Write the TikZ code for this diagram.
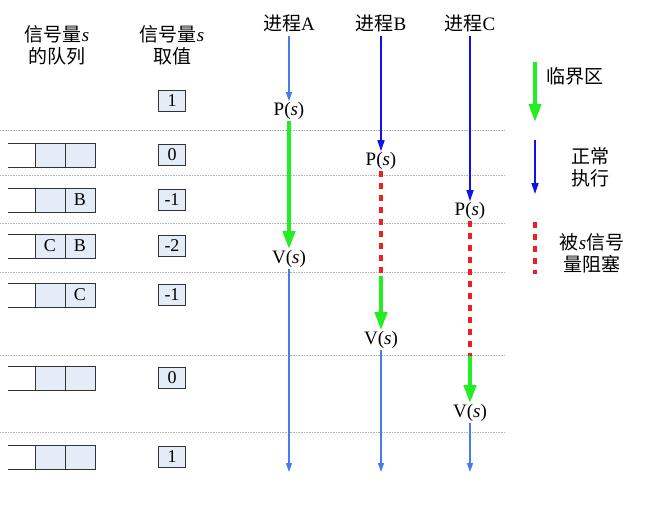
\documentclass[tikz,border=0pt]{standalone}
\usepackage{fontspec}
\setmainfont{Liberation Serif}
\newfontfamily\cjk{Noto Sans CJK SC}
\usetikzlibrary{arrows.meta}
\definecolor{lblue}{HTML}{4A7BEA}
\definecolor{dblue}{HTML}{1010F0}
\definecolor{cgreen}{HTML}{22EE22}
\definecolor{cred}{HTML}{F02020}
\definecolor{cellfill}{HTML}{E4ECF8}
\newcommand{\si}{{\rmfamily\itshape s}}
\tikzset{
 grid/.style={gray!60,densely dotted,line width=0.6pt},
 cell/.style={draw=black!80,fill=cellfill,minimum width=30pt,minimum height=24pt,inner sep=0pt,font=\fontsize{18}{18}\selectfont,line width=0.8pt},
 val/.style={draw=black!80,fill=cellfill,minimum width=27pt,minimum height=21pt,inner sep=0pt,font=\fontsize{18}{18}\selectfont,line width=0.8pt},
 lab/.style={font=\fontsize{19}{19}\selectfont,inner sep=1pt},
 hdr/.style={font=\cjk\fontsize{19}{22}\selectfont,align=center,inner sep=0pt},
 norm/.style={lblue,line width=1.2pt,-{Triangle[length=9pt,width=6pt]}},
 normd/.style={dblue,line width=1.5pt,-{Triangle[length=11pt,width=7pt]}},
 crit/.style={cgreen,line width=4pt,-{Triangle[length=18pt,width=12pt]}},
 blk/.style={cred,line width=4pt,dash pattern=on 6pt off 6pt},
}
\newcommand{\queue}[4]{% y, name, left, right
 \draw[black!80,line width=0.8pt] (8,#1-12) -- (35,#1-12) (8,#1+12) -- (35,#1+12);
 \node[cell] (#2a) at (50,#1) {#3};
 \node[cell] (#2b) at (80,#1) {#4};}
\begin{document}
\begin{tikzpicture}[x=1pt,y=-1pt]
\useasboundingbox (0,0) rectangle (660,504);
\foreach \y in {130,175,223,272,355,432} \draw[grid] (0,\y) -- (505,\y);
\node[hdr] (h1) at (57,45) {信号量\si\\的队列};
\node[hdr] (h2) at (172,45) {信号量\si\\取值};
\node[hdr] (pa) at (289,23) {进程{\rmfamily A}};
\node[hdr] (pb) at (381,23) {进程{\rmfamily B}};
\node[hdr] (pc) at (470,23) {进程{\rmfamily C}};
% queues
\queue{155}{q1}{}{}
\queue{200}{q2}{}{B}
\queue{246}{q3}{C}{B}
\queue{295}{q4}{}{C}
\queue{378}{q5}{}{}
\queue{457}{q6}{}{}
% values
\node[val] (v1) at (172,101) {1};
\node[val] (v2) at (172,155) {0};
\node[val] (v3) at (172,200) {-1};
\node[val] (v4) at (172,246) {-2};
\node[val] (v5) at (172,295) {-1};
\node[val] (v6) at (172,378) {0};
\node[val] (v7) at (172,457) {1};
% process A
\node[lab] (ap) at (289,111) {P(\textit{s})};
\node[lab] (av) at (289,259) {V(\textit{s})};
\coordinate (ae) at (289,472);
\draw[norm] (289,36) -- (ap.north);
\draw[crit] (ap.south) -- (av.north);
\draw[norm] (av.south) -- (ae);
% process B
\node[lab] (bp) at (381,161) {P(\textit{s})};
\coordinate (bg) at (381,276);
\node[lab] (bv) at (381,340) {V(\textit{s})};
\coordinate (be) at (381,472);
\draw[normd] (381,36) -- (bp.north);
\draw[blk] (bp.south) -- (bg);
\draw[crit] (bg) -- (bv.north);
\draw[norm] (bv.south) -- (be);
% process C
\node[lab] (cp) at (470,211) {P(\textit{s})};
\coordinate (cg) at (470,356);
\node[lab] (cv) at (470,413) {V(\textit{s})};
\coordinate (ce) at (470,472);
\draw[normd] (470,36) -- (cp.north);
\draw[blk] (cp.south) -- (cg);
\draw[crit] (cg) -- (cv.north);
\draw[norm] (cv.south) -- (ce);
% legend
\coordinate (l1a) at (535,62); \coordinate (l1b) at (535,122);
\draw[crit] (l1a) -- (l1b);
\node[hdr,anchor=west] (t1) at (546,76) {临界区};
\coordinate (l2a) at (535,140); \coordinate (l2b) at (535,194);
\draw[normd] (l2a) -- (l2b);
\node[hdr] (t2) at (590,167) {正常\\执行};
\coordinate (l3a) at (535,222); \coordinate (l3b) at (535,274);
\draw[blk] (l3a) -- (l3b);
\node[hdr] (t3) at (592,253) {被\si 信号\\量阻塞};
\end{tikzpicture}
\end{document}
